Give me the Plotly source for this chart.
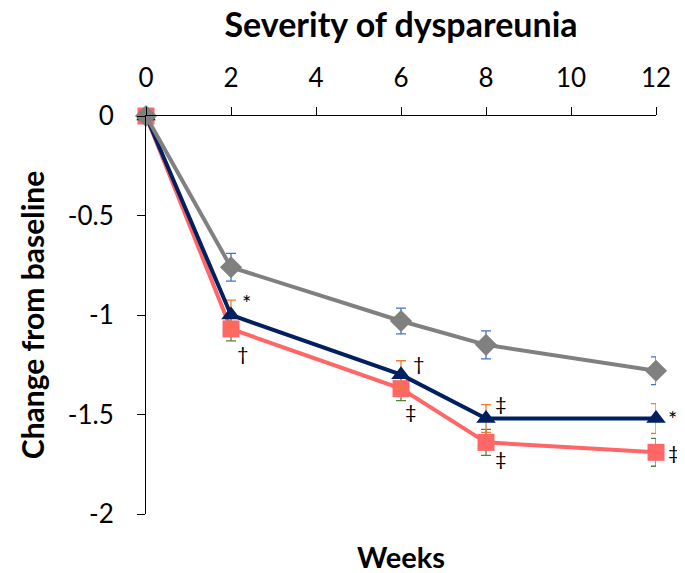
import plotly.graph_objects as go

weeks = [0, 2, 6, 8, 12]
gray_vals = [0, -0.76, -1.03, -1.15, -1.28]
gray_err = [0, 0.07, 0.065, 0.07, 0.07]
navy_vals = [0, -1.00, -1.30, -1.52, -1.52]
navy_err = [0, 0.075, 0.07, 0.07, 0.075]
salmon_vals = [0, -1.07, -1.37, -1.64, -1.69]
salmon_err = [0, 0.06, 0.06, 0.065, 0.07]

# significance markers: week they belong to, y level, symbol
sig_week = [2, 2, 6, 6, 8, 8, 12, 12]
sig_y = [-0.935, -1.19, -1.24, -1.48, -1.44, -1.72, -1.52, -1.69]
sig_text = ["*", "†", "†", "‡", "‡", "‡", "*", "‡"]
sig_shift = [15, 12, 18, 10, 15, 15, 16, 18]

FONT = "Lato"

fig = go.Figure()
fig.add_trace(go.Scatter(
    x=weeks, y=salmon_vals, mode="lines+markers",
    line=dict(color="#FF6666", width=4),
    marker=dict(symbol="square", size=17, color="#FF6666"),
    error_y=dict(type="data", array=salmon_err, color="#548235", thickness=1.3, width=5),
    cliponaxis=False, showlegend=False))
fig.add_trace(go.Scatter(
    x=weeks, y=navy_vals, mode="lines+markers",
    line=dict(color="#002060", width=4),
    marker=dict(symbol="triangle-up", size=17, color="#002060"),
    error_y=dict(type="data", array=navy_err, color="#ED7D31", thickness=1.3, width=5),
    cliponaxis=False, showlegend=False))
fig.add_trace(go.Scatter(
    x=weeks, y=gray_vals, mode="lines+markers",
    line=dict(color="#808080", width=4),
    marker=dict(symbol="diamond", size=17, color="#808080"),
    error_y=dict(type="data", array=gray_err, color="#4472C4", thickness=1.3, width=5),
    cliponaxis=False, showlegend=False))

for sx, sy, st, sh in zip(sig_week, sig_y, sig_text, sig_shift):
    fig.add_annotation(x=sx, y=sy, xref="x", yref="y", text=st, showarrow=False,
                       xshift=sh,
                       font=dict(family=FONT, size=22 if st == "*" else 20, color="black"))

fig.update_layout(
    width=685, height=573,
    margin=dict(l=138, r=37, t=108, b=67, autoexpand=False),
    paper_bgcolor="white", plot_bgcolor="white",
    font=dict(family=FONT, size=26, color="black"),
    title=dict(text="<b>Severity of dyspareunia</b>", x=0.5, xanchor="center",
               xref="paper",
               y=1 - 17 / 573, yanchor="middle", font=dict(family=FONT, size=34, color="black")),
)
fig.update_xaxes(
    side="top", range=[0, 12], tickvals=[0, 2, 4, 6, 8, 10, 12],
    showline=True, linecolor="black", linewidth=1,
    ticks="outside", ticklen=8, tickcolor="black",
    showgrid=False, zeroline=False, automargin=False,
    tickfont=dict(family=FONT, size=26), ticklabelstandoff=10)
fig.update_yaxes(
    range=[-2, 0], tickvals=[0, -0.5, -1, -1.5, -2],
    ticktext=["0", "-0.5", "-1", "-1.5", "-2"],
    showline=True, linecolor="black", linewidth=1,
    ticks="outside", ticklen=8, tickcolor="black",
    showgrid=False, zeroline=False, automargin=False,
    tickfont=dict(family=FONT, size=26), ticklabelstandoff=18,
    title=dict(text="<b>Change from baseline</b>", font=dict(family=FONT, size=30), standoff=14))
fig.add_annotation(x=0.5, xref="paper", y=-0.108, yref="paper", yanchor="middle",
                   text="<b>Weeks</b>", showarrow=False,
                   font=dict(family=FONT, size=29, color="black"))

fig.write_html("out.html")
